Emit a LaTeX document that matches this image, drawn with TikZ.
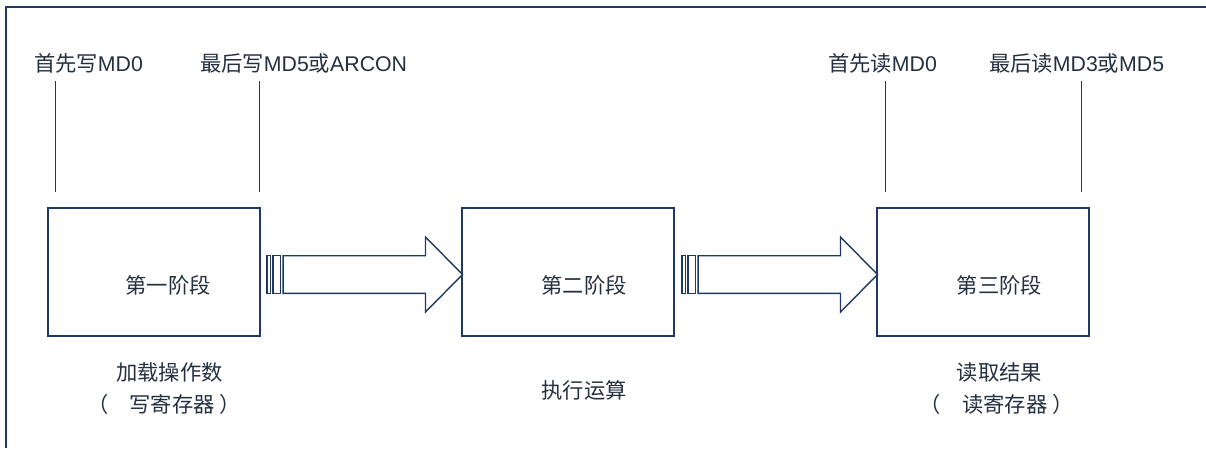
\documentclass[tikz,border=0pt]{standalone}
\usepackage{fontspec}
\setmainfont{Liberation Sans}
\newfontfamily\cjk{Noto Sans CJK SC}
\definecolor{linec}{RGB}{31,56,100}
\definecolor{textc}{RGB}{36,48,64}
\tikzset{
  hollowarrow/.pic={
    \draw[arrowline] (-195.4,-18.8) rectangle (-192,18.8);
    \draw[arrowline] (-189.4,-18.8) rectangle (-182,18.8);
    \draw[arrowline] (-179.4,-18.8) -- (-37,-18.8) -- (-37,-37.5) -- (0,0) -- (-37,37.5) -- (-37,18.8) -- (-179.4,18.8) -- cycle;
  }
}
\begin{document}
\begin{tikzpicture}[x=1pt,y=-1pt,
  every node/.style={inner sep=0pt, outer sep=0pt, text=textc, font=\fontsize{21.3}{25}\selectfont},
  stagebox/.style={draw=linec, line width=1.5pt, minimum width=212pt, minimum height=128pt},
  tick/.style={draw=linec, line width=1.4pt},
  arrowline/.style={draw=linec, line width=1.4pt, line join=miter, fill=white},
  frame/.style={draw=linec, line width=1.5pt}]
\useasboundingbox (0,0) rectangle (1206,448);
\draw[frame] (6,448) -- (6,7) -- (1206,7);

\node[stagebox] (b1) at (154,272) {};
\node[stagebox] (b2) at (568,272) {};
\node[stagebox] (b3) at (983,272) {};
\node (s1) at (168,285) {\cjk 第一阶段};
\node (s2) at (584,285) {\cjk 第二阶段};
\node (s3) at (999.5,285) {\cjk 第三阶段};

\node[anchor=west] (t1) at (34,63.5) {{\cjk 首先写}MD0};
\node[anchor=west] (t2) at (200,63.5) {{\cjk 最后写}MD5{\cjk 或}ARCON};
\node[anchor=west] (t3) at (828,63.5) {{\cjk 首先读}MD0};
\node[anchor=west] (t4) at (989,63.5) {{\cjk 最后读}MD3{\cjk 或}MD5};

\coordinate (c1a) at (55.7,81);   \coordinate (c1b) at (55.7,192);
\coordinate (c2a) at (259.3,81);  \coordinate (c2b) at (259.3,192);
\coordinate (c3a) at (885.7,81);  \coordinate (c3b) at (885.7,192);
\coordinate (c4a) at (1081.7,81); \coordinate (c4b) at (1081.7,192);
\draw[tick] (c1a) -- (c1b);
\draw[tick] (c2a) -- (c2b);
\draw[tick] (c3a) -- (c3b);
\draw[tick] (c4a) -- (c4b);

\path (b2.west) ++(0.5,2.5) pic {hollowarrow};
\path (b3.west) ++(0.5,2.5) pic {hollowarrow};

\node (l1a) at (169.5,372) {\cjk 加载操作数};
\node (l1b) at (164,404) {\cjk （　写寄存器 ）};
\node (l2) at (584,390) {\cjk 执行运算};
\node (l3a) at (999.5,372) {\cjk 读取结果};
\node (l3b) at (996.5,404) {\cjk （　读寄存器 ）};
\end{tikzpicture}
\end{document}
